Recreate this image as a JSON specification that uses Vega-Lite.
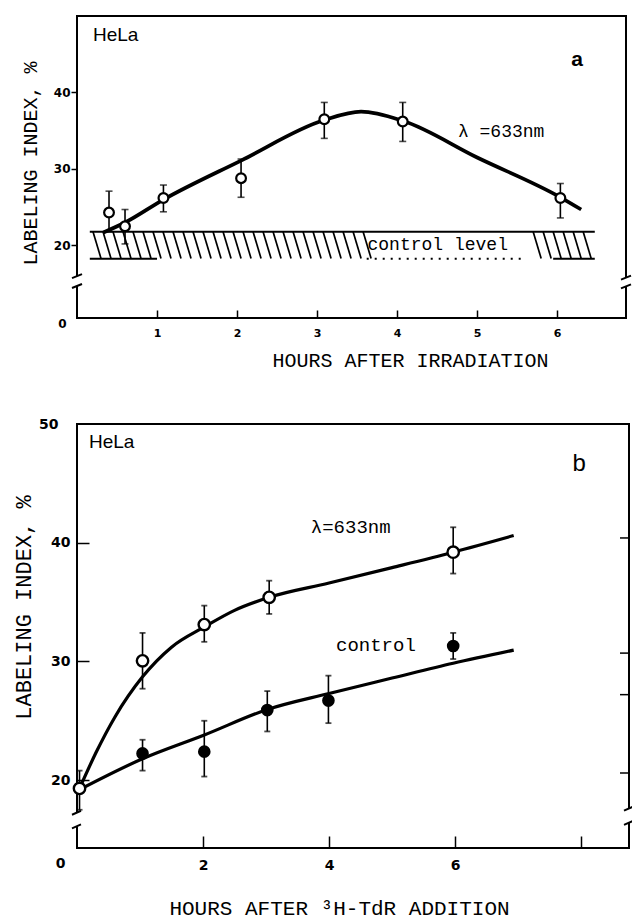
{
  "$schema": "https://vega.github.io/schema/vega-lite/v6.json",
  "background": "white",
  "padding": {"left": 11, "top": 15, "right": 0, "bottom": 0},
  "config": {
    "view": {"stroke": "black", "strokeWidth": 2},
    "axis": {"grid": false, "domain": false, "tickColor": "black", "tickWidth": 1.5, "labelColor": "black", "titleColor": "black", "labelFont": "DejaVu Sans", "labelFontWeight": "bold", "titleFont": "Liberation Mono", "titleFontWeight": "normal"},
    "concat": {"spacing": 45}
  },
  "datasets": {
    "ptsA": [
      {"x": 0.4, "y": 24.3, "lo": 21.8, "hi": 27.1},
      {"x": 0.6, "y": 22.5, "lo": 20.2, "hi": 24.7},
      {"x": 1.08, "y": 26.2, "lo": 24.4, "hi": 27.9},
      {"x": 2.05, "y": 28.8, "lo": 26.3, "hi": 31.3},
      {"x": 3.09, "y": 36.5, "lo": 34.0, "hi": 38.7},
      {"x": 4.07, "y": 36.2, "lo": 33.6, "hi": 38.7},
      {"x": 6.04, "y": 26.2, "lo": 23.6, "hi": 28.1}
    ],
    "curveA": [
      {"x": 0.33, "y": 21.7},
      {"x": 0.6, "y": 23.0},
      {"x": 1.08, "y": 26.0},
      {"x": 2.05, "y": 31.1},
      {"x": 3.09, "y": 36.4},
      {"x": 3.55, "y": 37.5},
      {"x": 4.07, "y": 36.3},
      {"x": 5.0, "y": 31.5},
      {"x": 6.04, "y": 26.3},
      {"x": 6.3, "y": 24.7}
    ],
    "hatchA": [
      {"hx": 0.2}, {"hx": 0.325}, {"hx": 0.45}, {"hx": 0.575}, {"hx": 0.7}, {"hx": 0.825}, {"hx": 0.95},
      {"hx": 1.075}, {"hx": 1.2}, {"hx": 1.325}, {"hx": 1.45}, {"hx": 1.575}, {"hx": 1.7}, {"hx": 1.825},
      {"hx": 1.95}, {"hx": 2.075}, {"hx": 2.2}, {"hx": 2.325}, {"hx": 2.45}, {"hx": 2.575}, {"hx": 2.7},
      {"hx": 2.825}, {"hx": 2.95}, {"hx": 3.075}, {"hx": 3.2}, {"hx": 3.325}, {"hx": 3.45}, {"hx": 3.575},
      {"hx": 5.7}, {"hx": 5.825}, {"hx": 5.95}, {"hx": 6.075}, {"hx": 6.2}, {"hx": 6.325}
    ],
    "bandA": [
      {"x1": 0.16, "x2": 6.47, "y": 21.8},
      {"x1": 0.16, "x2": 1.0, "y": 18.25},
      {"x1": 5.95, "x2": 6.47, "y": 18.25}
    ],
    "brkA": [
      {"bx": 0, "lo": 14.7, "hi": 16.0},
      {"bx": 6.86, "lo": 14.5, "hi": 15.8}
    ],
    "ptsB": [
      {"series": "633nm", "x": 0.04, "y": 19.3, "lo": 17.5, "hi": 20.8},
      {"series": "633nm", "x": 1.04, "y": 30.05, "lo": 27.7, "hi": 32.4},
      {"series": "633nm", "x": 2.02, "y": 33.1, "lo": 31.65, "hi": 34.7},
      {"series": "633nm", "x": 3.05, "y": 35.4, "lo": 34.0, "hi": 36.8},
      {"series": "633nm", "x": 5.97, "y": 39.2, "lo": 37.4, "hi": 41.3},
      {"series": "control", "x": 1.04, "y": 22.25, "lo": 20.8, "hi": 23.4},
      {"series": "control", "x": 2.02, "y": 22.4, "lo": 20.3, "hi": 25.0},
      {"series": "control", "x": 3.02, "y": 25.9, "lo": 24.1, "hi": 27.5},
      {"series": "control", "x": 3.99, "y": 26.7, "lo": 24.8, "hi": 28.8},
      {"series": "control", "x": 5.97, "y": 31.3, "lo": 30.2, "hi": 32.4}
    ],
    "curveB": [
      {"series": "633nm", "x": 0.04, "y": 19.3},
      {"series": "633nm", "x": 0.3, "y": 22.3},
      {"series": "633nm", "x": 0.6, "y": 25.3},
      {"series": "633nm", "x": 1.04, "y": 28.7},
      {"series": "633nm", "x": 1.5, "y": 31.2},
      {"series": "633nm", "x": 2.02, "y": 32.9},
      {"series": "633nm", "x": 2.5, "y": 34.3},
      {"series": "633nm", "x": 3.05, "y": 35.4},
      {"series": "633nm", "x": 4.0, "y": 36.6},
      {"series": "633nm", "x": 5.0, "y": 37.9},
      {"series": "633nm", "x": 5.97, "y": 39.2},
      {"series": "633nm", "x": 6.93, "y": 40.6},
      {"series": "control", "x": 0.04, "y": 19.2},
      {"series": "control", "x": 1.04, "y": 21.8},
      {"series": "control", "x": 2.02, "y": 23.8},
      {"series": "control", "x": 3.02, "y": 25.95},
      {"series": "control", "x": 4.0, "y": 27.3},
      {"series": "control", "x": 5.0, "y": 28.6},
      {"series": "control", "x": 5.97, "y": 29.85},
      {"series": "control", "x": 6.93, "y": 30.95}
    ],
    "brkB": [
      {"bx": 0, "lo": 16.1, "hi": 17.25},
      {"bx": 8.76, "lo": 16.4, "hi": 17.6}
    ],
    "rtB": [{"v": 20.6}, {"v": 27.2}, {"v": 30.7}, {"v": 40.4}]
  },
  "resolve": {"scale": {"x": "independent", "y": "independent"}},
  "vconcat": [
    {
      "width": 549,
      "height": 302,
      "layer": [
        {
          "data": {"name": "hatchA"},
          "mark": {"type": "rule", "color": "black", "strokeWidth": 1.7, "x2Offset": 8},
          "encoding": {
            "x": {"field": "hx", "type": "quantitative"},
            "x2": {"field": "hx"},
            "y": {"datum": 21.8, "type": "quantitative"},
            "y2": {"datum": 18.3}
          }
        },
        {
          "data": {"name": "bandA"},
          "mark": {"type": "rule", "color": "black", "strokeWidth": 2},
          "encoding": {
            "x": {"field": "x1", "type": "quantitative"},
            "x2": {"field": "x2"},
            "y": {"field": "y", "type": "quantitative"}
          }
        },
        {
          "data": {"values": [{"x1": 3.62, "x2": 5.6, "y": 18.25}]},
          "mark": {"type": "rule", "color": "black", "strokeWidth": 2, "strokeDash": [2, 6]},
          "encoding": {
            "x": {"field": "x1", "type": "quantitative"},
            "x2": {"field": "x2"},
            "y": {"field": "y", "type": "quantitative"}
          }
        },
        {
          "data": {"name": "curveA"},
          "mark": {"type": "line", "color": "black", "strokeWidth": 3.7, "interpolate": "monotone"},
          "encoding": {
            "x": {"field": "x", "type": "quantitative"},
            "y": {"field": "y", "type": "quantitative"}
          }
        },
        {
          "data": {"name": "ptsA"},
          "mark": {"type": "rule", "color": "black", "strokeWidth": 1.6},
          "encoding": {
            "x": {"field": "x", "type": "quantitative"},
            "y": {"field": "lo", "type": "quantitative"},
            "y2": {"field": "hi"}
          }
        },
        {
          "data": {"name": "ptsA"},
          "mark": {"type": "tick", "color": "black", "orient": "horizontal", "size": 7, "thickness": 1.6},
          "encoding": {
            "x": {"field": "x", "type": "quantitative"},
            "y": {"field": "hi", "type": "quantitative"}
          }
        },
        {
          "data": {"name": "ptsA"},
          "mark": {"type": "tick", "color": "black", "orient": "horizontal", "size": 7, "thickness": 1.6},
          "encoding": {
            "x": {"field": "x", "type": "quantitative"},
            "y": {"field": "lo", "type": "quantitative"}
          }
        },
        {
          "data": {"name": "ptsA"},
          "mark": {"type": "point", "shape": "circle", "filled": true, "fill": "white", "stroke": "black", "strokeWidth": 2.2, "size": 95, "opacity": 1},
          "encoding": {
            "x": {
              "field": "x", "type": "quantitative",
              "scale": {"domain": [0, 6.86], "nice": false, "zero": false},
              "axis": {
                "values": [1, 2, 3, 4, 5, 6], "format": "d", "tickSize": -8, "labelPadding": 17,
                "labelFontSize": 11, "title": "HOURS AFTER IRRADIATION", "titleFontSize": 20,
                "titleX": 333, "titleY": 42, "titleBaseline": "middle", "titleAlign": "center"
              }
            },
            "y": {
              "field": "y", "type": "quantitative",
              "scale": {"domain": [0, 14.7, 50], "range": [302, 270, 0], "nice": false, "zero": false},
              "axis": {
                "values": [0, 20, 30, 40],
                "tickSize": {"condition": {"test": "datum.value === 0", "value": 0}, "value": 6},
                "labelPadding": {"condition": {"test": "datum.value === 0", "value": 11}, "value": 1},
                "labelOffset": {"condition": {"test": "datum.value === 0", "value": 5}, "value": 0},
                "labelFontSize": 12, "title": "LABELING INDEX, %", "titleFontSize": 20,
                "titleX": -47, "titleY": 147, "titleBaseline": "middle", "titleAlign": "center", "titleAngle": 270
              }
            }
          }
        },
        {
          "data": {"name": "brkA"},
          "mark": {"type": "rect", "fill": "white", "xOffset": -3, "x2Offset": 3},
          "encoding": {
            "x": {"field": "bx", "type": "quantitative"},
            "x2": {"field": "bx"},
            "y": {"field": "lo", "type": "quantitative"},
            "y2": {"field": "hi"}
          }
        },
        {
          "data": {"name": "brkA"},
          "mark": {"type": "rule", "color": "black", "strokeWidth": 2, "xOffset": -5, "x2Offset": 5, "yOffset": 2, "y2Offset": -2},
          "encoding": {
            "x": {"field": "bx", "type": "quantitative"},
            "x2": {"field": "bx"},
            "y": {"field": "lo", "type": "quantitative"},
            "y2": {"field": "lo"}
          }
        },
        {
          "data": {"name": "brkA"},
          "mark": {"type": "rule", "color": "black", "strokeWidth": 2, "xOffset": -5, "x2Offset": 5, "yOffset": 2, "y2Offset": -2},
          "encoding": {
            "x": {"field": "bx", "type": "quantitative"},
            "x2": {"field": "bx"},
            "y": {"field": "hi", "type": "quantitative"},
            "y2": {"field": "hi"}
          }
        },
        {
          "data": {"values": [{"t": "HeLa", "x": 0.2, "y": 47.5}]},
          "mark": {"type": "text", "font": "Liberation Sans", "fontSize": 19, "align": "left", "baseline": "middle", "color": "black"},
          "encoding": {
            "x": {"field": "x", "type": "quantitative"},
            "y": {"field": "y", "type": "quantitative"},
            "text": {"field": "t"}
          }
        },
        {
          "data": {"values": [{"t": "a", "x": 6.25, "y": 44.2}]},
          "mark": {"type": "text", "font": "Liberation Sans", "fontSize": 21, "fontWeight": "bold", "align": "center", "baseline": "middle", "color": "black"},
          "encoding": {
            "x": {"field": "x", "type": "quantitative"},
            "y": {"field": "y", "type": "quantitative"},
            "text": {"field": "t"}
          }
        },
        {
          "data": {"values": [{"t": "λ =633nm", "x": 4.76, "y": 34.8}, {"t": "control level", "x": 3.63, "y": 20.1}]},
          "mark": {"type": "text", "font": "Liberation Mono", "fontSize": 18, "align": "left", "baseline": "middle", "color": "black"},
          "encoding": {
            "x": {"field": "x", "type": "quantitative"},
            "y": {"field": "y", "type": "quantitative"},
            "text": {"field": "t"}
          }
        }
      ]
    },
    {
      "width": 552,
      "height": 424,
      "layer": [
        {
          "data": {"name": "curveB"},
          "mark": {"type": "line", "color": "black", "strokeWidth": 3.2, "interpolate": "monotone"},
          "encoding": {
            "x": {"field": "x", "type": "quantitative"},
            "y": {"field": "y", "type": "quantitative"},
            "detail": {"field": "series"}
          }
        },
        {
          "data": {"name": "ptsB"},
          "mark": {"type": "rule", "color": "black", "strokeWidth": 1.6},
          "encoding": {
            "x": {"field": "x", "type": "quantitative"},
            "y": {"field": "lo", "type": "quantitative"},
            "y2": {"field": "hi"}
          }
        },
        {
          "data": {"name": "ptsB"},
          "mark": {"type": "tick", "color": "black", "orient": "horizontal", "size": 6, "thickness": 1.8},
          "encoding": {
            "x": {"field": "x", "type": "quantitative"},
            "y": {"field": "hi", "type": "quantitative"}
          }
        },
        {
          "data": {"name": "ptsB"},
          "mark": {"type": "tick", "color": "black", "orient": "horizontal", "size": 6, "thickness": 1.8},
          "encoding": {
            "x": {"field": "x", "type": "quantitative"},
            "y": {"field": "lo", "type": "quantitative"}
          }
        },
        {
          "data": {"name": "ptsB"},
          "transform": [{"filter": "datum.series === 'control'"}],
          "mark": {"type": "point", "shape": "circle", "filled": true, "color": "black", "size": 160, "opacity": 1},
          "encoding": {
            "x": {"field": "x", "type": "quantitative"},
            "y": {"field": "y", "type": "quantitative"}
          }
        },
        {
          "data": {"name": "ptsB"},
          "transform": [{"filter": "datum.series === '633nm'"}],
          "mark": {"type": "point", "shape": "circle", "filled": true, "fill": "white", "stroke": "black", "strokeWidth": 2.4, "size": 130, "opacity": 1},
          "encoding": {
            "x": {
              "field": "x", "type": "quantitative",
              "scale": {"domain": [0, 8.76], "nice": false, "zero": false},
              "axis": {
                "values": [2, 4, 6, 8], "format": "d", "tickSize": -12, "labelPadding": 22,
                "labelExpr": "datum.value == 8 ? '' : datum.label",
                "labelFontSize": 14, "title": "HOURS AFTER ³H-TdR ADDITION", "titleFontSize": 21,
                "titleX": 262, "titleY": 60, "titleBaseline": "middle", "titleAlign": "center"
              }
            },
            "y": {
              "field": "y", "type": "quantitative",
              "scale": {"domain": [0, 16, 50], "range": [424, 403.6, 0], "nice": false, "zero": false},
              "axis": {
                "values": [0, 20, 30, 40, 50],
                "tickSize": {"condition": {"test": "datum.value === 0 || datum.value === 50", "value": 0}, "value": -12},
                "labelPadding": {"condition": {"test": "datum.value === 0", "value": 12}, "value": 19},
                "labelOffset": {"condition": {"test": "datum.value === 0", "value": 15}, "value": 0},
                "labelFontSize": 14, "title": "LABELING INDEX, %", "titleFontSize": 22,
                "titleX": -54, "titleY": 183, "titleBaseline": "middle", "titleAlign": "center", "titleAngle": 270
              }
            }
          }
        },
        {
          "data": {"name": "brkB"},
          "mark": {"type": "rect", "fill": "white", "xOffset": -3, "x2Offset": 3},
          "encoding": {
            "x": {"field": "bx", "type": "quantitative"},
            "x2": {"field": "bx"},
            "y": {"field": "lo", "type": "quantitative"},
            "y2": {"field": "hi"}
          }
        },
        {
          "data": {"name": "brkB"},
          "mark": {"type": "rule", "color": "black", "strokeWidth": 2, "xOffset": -5, "x2Offset": 4, "yOffset": 2, "y2Offset": -2},
          "encoding": {
            "x": {"field": "bx", "type": "quantitative"},
            "x2": {"field": "bx"},
            "y": {"field": "lo", "type": "quantitative"},
            "y2": {"field": "lo"}
          }
        },
        {
          "data": {"name": "brkB"},
          "mark": {"type": "rule", "color": "black", "strokeWidth": 2, "xOffset": -5, "x2Offset": 4, "yOffset": 2, "y2Offset": -2},
          "encoding": {
            "x": {"field": "bx", "type": "quantitative"},
            "x2": {"field": "bx"},
            "y": {"field": "hi", "type": "quantitative"},
            "y2": {"field": "hi"}
          }
        },
        {
          "data": {"name": "rtB"},
          "mark": {"type": "rule", "color": "black", "strokeWidth": 1.5, "x2Offset": -9},
          "encoding": {
            "x": {"datum": 8.76, "type": "quantitative"},
            "x2": {"datum": 8.76},
            "y": {"field": "v", "type": "quantitative"}
          }
        },
        {
          "data": {"values": [{"t": "HeLa", "x": 0.19, "y": 48.5}]},
          "mark": {"type": "text", "font": "Liberation Sans", "fontSize": 19, "align": "left", "baseline": "middle", "color": "black"},
          "encoding": {
            "x": {"field": "x", "type": "quantitative"},
            "y": {"field": "y", "type": "quantitative"},
            "text": {"field": "t"}
          }
        },
        {
          "data": {"values": [{"t": "b", "x": 7.97, "y": 46.6}]},
          "mark": {"type": "text", "font": "Liberation Sans", "fontSize": 24, "align": "center", "baseline": "middle", "color": "black"},
          "encoding": {
            "x": {"field": "x", "type": "quantitative"},
            "y": {"field": "y", "type": "quantitative"},
            "text": {"field": "t"}
          }
        },
        {
          "data": {"values": [{"t": "λ=633nm", "x": 3.71, "y": 41.3}, {"t": "control", "x": 4.11, "y": 31.4}]},
          "mark": {"type": "text", "font": "Liberation Mono", "fontSize": 19, "align": "left", "baseline": "middle", "color": "black"},
          "encoding": {
            "x": {"field": "x", "type": "quantitative"},
            "y": {"field": "y", "type": "quantitative"},
            "text": {"field": "t"}
          }
        }
      ]
    }
  ]
}
